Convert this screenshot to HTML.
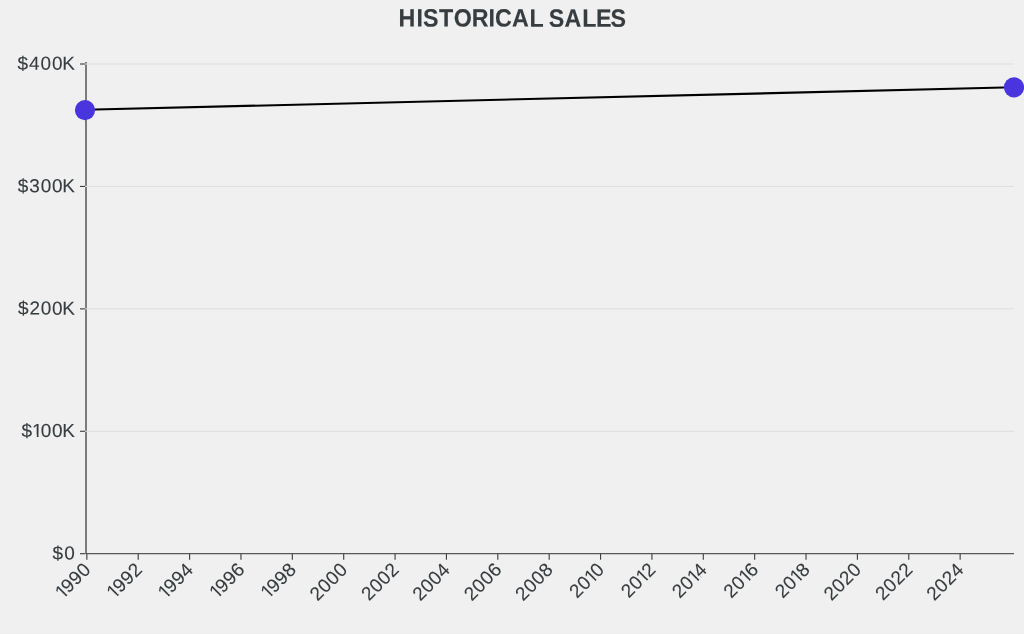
<!DOCTYPE html>
<html lang="en"><head><meta charset="utf-8"><title>Historical Sales</title>
<style>html,body{margin:0;padding:0;background:#f0f0f0;overflow:hidden}svg{display:block}text{font-family:"Liberation Sans",Arial,Helvetica,sans-serif;fill:#363c3f}</style>
</head><body>
<svg width="1024" height="634" viewBox="0 0 1024 634" role="img" aria-label="Historical sales line chart">
<rect width="1024" height="634" fill="#f0f0f0"/>
<text transform="translate(0,26.35) rotate(0.03) scale(0.9300,1)" x="428.56 447.76 454.75 472.04 487.92 507.25 525.18 532.20 550.45 569.40 584.41 590.12 607.12 626.07 640.91 656.47" y="0" font-size="25.00" font-weight="700" stroke="#363c3f" stroke-width="0.15">HISTORICAL SALES</text>
<line x1="86.00" y1="62.00" x2="86.00" y2="553.70" stroke="#222222" stroke-width="1.14"/>
<line x1="85.50" y1="553.70" x2="1014.00" y2="553.70" stroke="#585858" stroke-width="1.30"/>
<g stroke="#dedede" stroke-width="1.00" fill="none">
<line x1="85.00" y1="64.00" x2="1014.00" y2="64.00"/>
<line x1="85.00" y1="186.43" x2="1014.00" y2="186.43"/>
<line x1="85.00" y1="308.85" x2="1014.00" y2="308.85"/>
<line x1="85.00" y1="431.28" x2="1014.00" y2="431.28"/>
</g>
<g stroke="#404040" stroke-width="1.14" fill="none">
<line x1="80.00" y1="64.00" x2="85.00" y2="64.00"/>
<line x1="80.00" y1="186.43" x2="85.00" y2="186.43"/>
<line x1="80.00" y1="308.85" x2="85.00" y2="308.85"/>
<line x1="80.00" y1="431.28" x2="85.00" y2="431.28"/>
<line x1="80.00" y1="553.70" x2="85.00" y2="553.70"/>
<line x1="86.85" y1="553.70" x2="86.85" y2="559.70"/>
<line x1="138.22" y1="553.70" x2="138.22" y2="559.70"/>
<line x1="189.59" y1="553.70" x2="189.59" y2="559.70"/>
<line x1="240.96" y1="553.70" x2="240.96" y2="559.70"/>
<line x1="292.33" y1="553.70" x2="292.33" y2="559.70"/>
<line x1="343.70" y1="553.70" x2="343.70" y2="559.70"/>
<line x1="395.07" y1="553.70" x2="395.07" y2="559.70"/>
<line x1="446.44" y1="553.70" x2="446.44" y2="559.70"/>
<line x1="497.81" y1="553.70" x2="497.81" y2="559.70"/>
<line x1="549.18" y1="553.70" x2="549.18" y2="559.70"/>
<line x1="600.55" y1="553.70" x2="600.55" y2="559.70"/>
<line x1="651.92" y1="553.70" x2="651.92" y2="559.70"/>
<line x1="703.29" y1="553.70" x2="703.29" y2="559.70"/>
<line x1="754.66" y1="553.70" x2="754.66" y2="559.70"/>
<line x1="806.03" y1="553.70" x2="806.03" y2="559.70"/>
<line x1="857.40" y1="553.70" x2="857.40" y2="559.70"/>
<line x1="908.77" y1="553.70" x2="908.77" y2="559.70"/>
<line x1="960.14" y1="553.70" x2="960.14" y2="559.70"/>
</g>
<g font-size="18.98" stroke="#363c3f" stroke-width="0.10">
<text transform="translate(0,69.75) rotate(0.03)" x="17.42 28.93 40.62 52.07 62.20" y="0">$400K</text>
<text transform="translate(0,192.18) rotate(0.03)" x="17.87 29.23 40.72 52.07 62.20" y="0">$300K</text>
<text transform="translate(0,314.60) rotate(0.03)" x="17.92 29.42 40.72 52.07 62.20" y="0">$200K</text>
<text transform="translate(0,437.03) rotate(0.03)" x="21.52 32.09 40.72 52.07 62.20" y="0">$100K</text>
<g transform="translate(0,437.03) rotate(0.03)" fill="#f0f0f0" stroke="none"><rect x="32.63" y="-2.32" width="4.18" height="3.32"/><rect x="38.59" y="-2.32" width="3.28" height="3.32"/></g>
<text transform="translate(0,559.45) rotate(0.03)" x="52.57 64.32" y="0">$0</text>
</g>
<g font-size="18.98" stroke="#363c3f" stroke-width="0.10">
<text transform="translate(91.85,570.60) rotate(-45)" x="-41.22 -32.91 -21.95 -10.86" y="0">1990</text>
<g transform="translate(91.85,570.60) rotate(-45)" fill="#f0f0f0" stroke="none"><rect x="-40.68" y="-2.32" width="4.18" height="3.32"/><rect x="-34.72" y="-2.32" width="3.28" height="3.32"/></g>
<text transform="translate(143.22,570.60) rotate(-45)" x="-40.83 -32.52 -21.56 -10.71" y="0">1992</text>
<g transform="translate(143.22,570.60) rotate(-45)" fill="#f0f0f0" stroke="none"><rect x="-40.29" y="-2.32" width="4.18" height="3.32"/><rect x="-34.33" y="-2.32" width="3.28" height="3.32"/></g>
<text transform="translate(194.59,570.60) rotate(-45)" x="-41.22 -32.91 -21.95 -11.09" y="0">1994</text>
<g transform="translate(194.59,570.60) rotate(-45)" fill="#f0f0f0" stroke="none"><rect x="-40.68" y="-2.32" width="4.18" height="3.32"/><rect x="-34.72" y="-2.32" width="3.28" height="3.32"/></g>
<text transform="translate(245.96,570.60) rotate(-45)" x="-41.03 -32.72 -21.75 -10.80" y="0">1996</text>
<g transform="translate(245.96,570.60) rotate(-45)" fill="#f0f0f0" stroke="none"><rect x="-40.48" y="-2.32" width="4.18" height="3.32"/><rect x="-34.53" y="-2.32" width="3.28" height="3.32"/></g>
<text transform="translate(297.33,570.60) rotate(-45)" x="-40.98 -32.67 -21.70 -10.74" y="0">1998</text>
<g transform="translate(297.33,570.60) rotate(-45)" fill="#f0f0f0" stroke="none"><rect x="-40.43" y="-2.32" width="4.18" height="3.32"/><rect x="-34.48" y="-2.32" width="3.28" height="3.32"/></g>
<text transform="translate(348.70,570.60) rotate(-45)" x="-44.20 -33.19 -22.02 -10.86" y="0">2000</text>
<text transform="translate(400.07,570.60) rotate(-45)" x="-43.81 -32.80 -21.63 -10.71" y="0">2002</text>
<text transform="translate(451.44,570.60) rotate(-45)" x="-44.20 -33.19 -22.02 -11.09" y="0">2004</text>
<text transform="translate(502.81,570.60) rotate(-45)" x="-44.01 -32.99 -21.83 -10.80" y="0">2006</text>
<text transform="translate(554.18,570.60) rotate(-45)" x="-43.96 -32.94 -21.78 -10.74" y="0">2008</text>
<text transform="translate(605.55,570.60) rotate(-45)" x="-40.30 -29.29 -19.29 -10.86" y="0">2010</text>
<g transform="translate(605.55,570.60) rotate(-45)" fill="#f0f0f0" stroke="none"><rect x="-18.74" y="-2.32" width="4.18" height="3.32"/><rect x="-12.79" y="-2.32" width="3.28" height="3.32"/></g>
<text transform="translate(656.92,570.60) rotate(-45)" x="-39.91 -28.90 -18.90 -10.71" y="0">2012</text>
<g transform="translate(656.92,570.60) rotate(-45)" fill="#f0f0f0" stroke="none"><rect x="-18.35" y="-2.32" width="4.18" height="3.32"/><rect x="-12.40" y="-2.32" width="2.74" height="3.32"/></g>
<text transform="translate(708.29,570.60) rotate(-45)" x="-40.30 -29.29 -19.29 -11.09" y="0">2014</text>
<g transform="translate(708.29,570.60) rotate(-45)" fill="#f0f0f0" stroke="none"><rect x="-18.74" y="-2.32" width="4.18" height="3.32"/><rect x="-12.79" y="-2.32" width="3.13" height="3.32"/></g>
<text transform="translate(759.66,570.60) rotate(-45)" x="-40.11 -29.09 -19.09 -10.80" y="0">2016</text>
<g transform="translate(759.66,570.60) rotate(-45)" fill="#f0f0f0" stroke="none"><rect x="-18.55" y="-2.32" width="4.18" height="3.32"/><rect x="-12.59" y="-2.32" width="3.28" height="3.32"/></g>
<text transform="translate(811.03,570.60) rotate(-45)" x="-40.06 -29.04 -19.04 -10.74" y="0">2018</text>
<g transform="translate(811.03,570.60) rotate(-45)" fill="#f0f0f0" stroke="none"><rect x="-18.50" y="-2.32" width="4.18" height="3.32"/><rect x="-12.54" y="-2.32" width="3.23" height="3.32"/></g>
<text transform="translate(862.40,570.60) rotate(-45)" x="-43.81 -32.80 -21.88 -10.86" y="0">2020</text>
<text transform="translate(913.77,570.60) rotate(-45)" x="-43.42 -32.41 -21.49 -10.71" y="0">2022</text>
<text transform="translate(965.14,570.60) rotate(-45)" x="-43.81 -32.80 -21.88 -11.09" y="0">2024</text>
</g>
<line x1="85.00" y1="109.80" x2="1014.00" y2="87.30" stroke="#000" stroke-width="2.10"/>
<circle cx="85.00" cy="110.10" r="10.10" fill="#4835de"/>
<circle cx="1014.00" cy="87.35" r="10.10" fill="#4835de"/>
</svg>
</body></html>
